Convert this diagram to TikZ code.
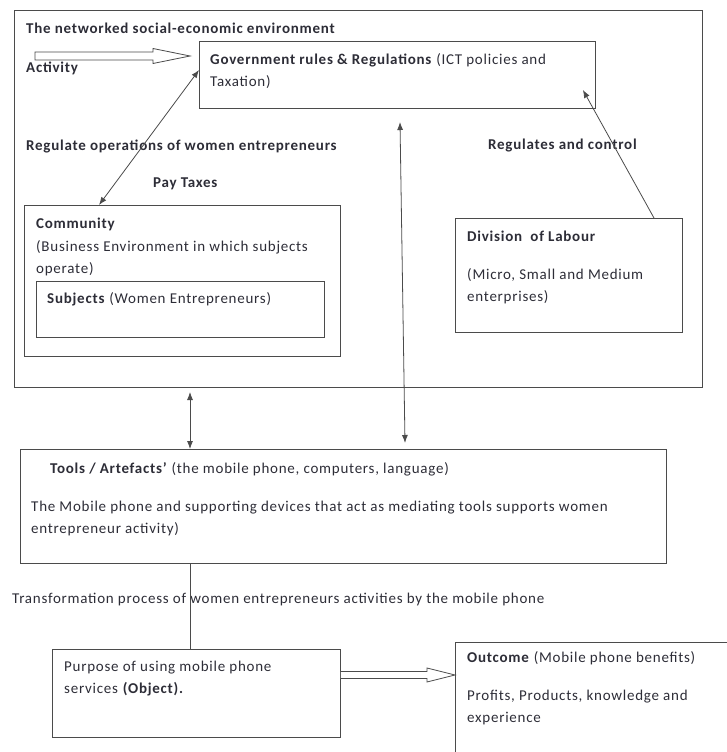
\documentclass[tikz,border=0pt]{standalone}
\usepackage{fontspec}
\setmainfont{Carlito}[LetterSpace=5]
\usetikzlibrary{arrows.meta,calc}
\definecolor{linec}{RGB}{75,75,75}
\definecolor{textc}{RGB}{45,45,55}
\tikzset{
  boxn/.style={draw=linec, line width=0.9pt, rectangle, inner sep=0, anchor=north west},
  txt/.style={font=\fontsize{15}{22}\selectfont, text=textc, inner sep=0, anchor=base west},
  conn/.style={draw=linec, line width=0.8pt},
  tip2/.style={conn, {Latex[length=8pt,width=6pt]}-{Latex[length=8pt,width=6pt]}},
  tip1/.style={conn, -{Latex[length=8pt,width=6pt]}},
  hollow/.style={draw=linec, line width=0.8pt, fill=white}
}
\begin{document}
\begin{tikzpicture}[x=1pt,y=-1pt]
\useasboundingbox (0,0) rectangle (727,752);
\clip (0,0) rectangle (727,752);
% boxes
\node[boxn, line width=1pt, minimum width=688, minimum height=377] (env) at (14,10) {};
\node[boxn, minimum width=396, minimum height=67] (gov) at (199,41) {};
\node[boxn, minimum width=316, minimum height=151] (comm) at (24,205) {};
\node[boxn, minimum width=288, minimum height=56] (subj) at (36,281) {};
\node[boxn, minimum width=227, minimum height=114] (div) at (455,218) {};
\node[boxn, minimum width=646, minimum height=114] (tools) at (20,449) {};
\node[boxn, minimum width=288, minimum height=88] (purp) at (52,649) {};
\node[boxn, minimum width=290, minimum height=130] (outc) at (455,642) {};
% texts
\node[txt] (t1) at (26,34) {\textbf{The networked social-economic environment}};
\node[txt] (t2) at (26,73) {\textbf{Activity}};
\node[txt] (t3) at (210,64) {\textbf{Government rules \& Regulations} (ICT policies and};
\node[txt] (t4) at (210,86) {Taxation)};
\node[txt] (t5) at (26,150) {\textbf{Regulate operations of women entrepreneurs}};
\node[txt] (t6) at (153,187) {\textbf{Pay Taxes}};
\node[txt] (t7) at (488,149) {\textbf{Regulates and control}};
\node[txt] (t8) at (36,228) {\textbf{Community}};
\node[txt] (t9) at (36,251) {(Business Environment in which subjects};
\node[txt] (t10) at (36,273) {operate)};
\node[txt] (t11) at (47,303) {\textbf{Subjects} (Women Entrepreneurs)};
\node[txt] (t12) at (467,241) {\textbf{Division\ \ of Labour}};
\node[txt] (t13) at (467,279) {(Micro, Small and Medium};
\node[txt] (t14) at (467,301) {enterprises)};
\node[txt] (t15) at (50,473) {\textbf{Tools / Artefacts'} (the mobile phone, computers, language)};
\node[txt] (t16) at (31,511) {The Mobile phone and supporting devices that act as mediating tools supports women};
\node[txt] (t17) at (31,533) {entrepreneur activity)};
\node[txt] (t18) at (12,603) {Transformation process of women entrepreneurs activities by the mobile phone};
\node[txt] (t19) at (64,671) {Purpose of using mobile phone};
\node[txt] (t20) at (64,693) {services \textbf{(Object).}};
\node[txt] (t21) at (467,662) {\textbf{Outcome} (Mobile phone benefits)};
\node[txt] (t22) at (467,700) {Profits, Products, knowledge and};
\node[txt] (t23) at (467,722) {experience};
% connectors
\coordinate (actS) at (35,56);
\coordinate (actT) at (190,56);
\draw[hollow] ($(actS)+(0,-4)$) -- ($(actT)+(-37,-4)$) -- ($(actT)+(-37,-7.5)$) -- (actT)
  -- ($(actT)+(-37,7.5)$) -- ($(actT)+(-37,4)$) -- ($(actS)+(0,4)$) -- cycle;
\draw[tip2] (gov.west |- 0,70) -- (comm.north -| 99,0);
\draw[tip1] (div.north -| 654,0) -- ($(gov.south east)+(-13,-19)$);
\coordinate (vTop) at (400,122);
\coordinate (vBot) at (405,443);
\draw[tip2] (vTop) -- (vBot);
\draw[tip2] (env.south -| 190,0) ++(0,4) -- (tools.north -| 190,0);
\draw[conn] (tools.south -| 190,0) -- (purp.north -| 190,0);
\coordinate (poS) at (purp.east |- 0,675);
\coordinate (poT) at (outc.west |- 0,675);
\draw[hollow] ($(poS)+(0,-3.5)$) -- ($(poT)+(-28,-3.5)$) -- ($(poT)+(-28,-7)$) -- (poT)
  -- ($(poT)+(-28,7)$) -- ($(poT)+(-28,3.5)$) -- ($(poS)+(0,3.5)$);
\end{tikzpicture}
\end{document}
